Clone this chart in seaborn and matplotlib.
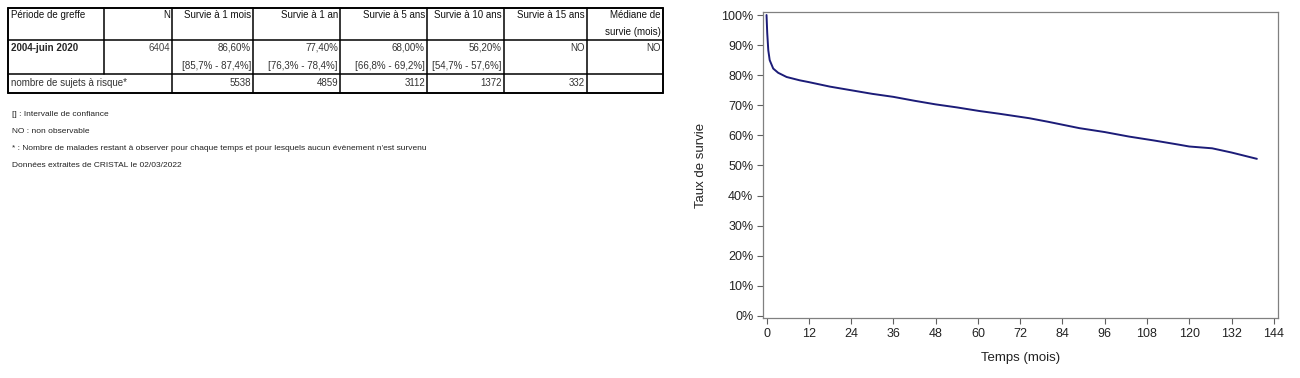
import numpy as np
import pandas as pd
import matplotlib
matplotlib.use("Agg")
import matplotlib.pyplot as plt
import seaborn as sns
from matplotlib.ticker import PercentFormatter

# survival curve (months, survival proportion)
months = [0, 0.2, 0.5, 0.9, 1.9, 3.3, 5.7, 9.4, 12, 18, 24, 30, 36, 42, 48, 54,
          60.4, 66, 74.6, 80, 88.8, 96, 102.9, 110, 117.1, 120, 126.5, 132, 139.2]
survival = [1.00, 0.94, 0.883, 0.85, 0.822, 0.808, 0.794, 0.783, 0.777, 0.762, 0.750,
            0.738, 0.728, 0.715, 0.703, 0.693, 0.681, 0.672, 0.657, 0.645, 0.624,
            0.611, 0.596, 0.583, 0.569, 0.563, 0.557, 0.543, 0.522]

# table content
headers_l1 = ["Période de greffe", "N", "Survie à 1 mois", "Survie à 1 an",
              "Survie à 5 ans", "Survie à 10 ans", "Survie à 15 ans", "Médiane de"]
headers_l2 = ["", "", "", "", "", "", "", "survie (mois)"]
period = "2004-juin 2020"
n_total = "6404"
rates = ["86,60%", "77,40%", "68,00%", "56,20%", "NO", "NO"]
ci = ["[85,7% - 87,4%]", "[76,3% - 78,4%]", "[66,8% - 69,2%]", "[54,7% - 57,6%]", "", ""]
at_risk_label = "nombre de sujets à risque*"
at_risk = ["5538", "4859", "3112", "1372", "332", ""]
notes = ["[] : Intervalle de confiance",
         "NO : non observable",
         "* : Nombre de malades restant à observer pour chaque temps et pour lesquels aucun évènement n'est survenu",
         "Données extraites de CRISTAL le 02/03/2022"]

sns.set_style("white")
plt.rcParams['font.family'] = ['Liberation Sans', 'DejaVu Sans']

fig = plt.figure(figsize=(13, 3.78), dpi=100)

# ---- table drawn in pixel coordinates ----
tab = fig.add_axes([0, 0, 1, 1])
tab.set_xlim(0, 1300)
tab.set_ylim(378, 0)
tab.axis('off')

cols = [8, 104, 172, 253, 340, 427, 504, 587, 663]
rows = [8, 40, 74, 93]
lw = 1.1
for y in rows:
    tab.plot([cols[0], cols[-1]], [y, y], color='black', lw=1.4 if y in (8, 93) else lw)
for i, x in enumerate(cols):
    outer = x in (cols[0], cols[-1])
    y0 = rows[0]
    y1 = rows[2] if x == cols[1] else rows[3]
    tab.plot([x, x], [y0, y1], color='black', lw=1.4 if outer else lw)

fs = 7
txt = '#111111'
for i, (h1, h2) in enumerate(zip(headers_l1, headers_l2)):
    if i == 0:
        tab.text(cols[0] + 3, 15, h1, fontsize=fs, ha='left', va='center', color=txt)
    else:
        tab.text(cols[i + 1] - 2, 15, h1, fontsize=fs, ha='right', va='center', color=txt)
        if h2:
            tab.text(cols[i + 1] - 2, 32, h2, fontsize=fs, ha='right', va='center', color=txt)

tab.text(cols[0] + 3, 48, period, fontsize=fs, ha='left', va='center', fontweight='bold')
tab.text(cols[2] - 2, 48, n_total, fontsize=fs, ha='right', va='center', color='#444444')
for j, (r, c) in enumerate(zip(rates, ci)):
    tab.text(cols[j + 3] - 2, 48, r, fontsize=fs, ha='right', va='center', color='#333333')
    if c:
        tab.text(cols[j + 3] - 2, 66, c, fontsize=fs, ha='right', va='center', color='#333333')

tab.text(cols[0] + 3, 83, at_risk_label, fontsize=fs, ha='left', va='center', color='#333333')
for j, v in enumerate(at_risk):
    if v:
        tab.text(cols[j + 3] - 2, 83, v, fontsize=fs, ha='right', va='center', color='#333333')

for k, note in enumerate(notes):
    tab.text(12, 115 + k * 16.8, note, fontsize=6, ha='left', va='center', color='#222222')

# ---- survival curve ----
ax = fig.add_axes([763 / 1300, (378 - 318) / 378, (1278 - 763) / 1300, (318 - 12) / 378])
df = pd.DataFrame({"Temps": months, "Survie": survival})
sns.lineplot(data=df, x="Temps", y="Survie", ax=ax, color='#1c1c78', lw=1.4)

ax.set_xlim(-1, 145.2)
ax.set_ylim(-0.007, 1.01)
ax.set_xticks(np.arange(0, 145, 12))
ax.set_yticks(np.arange(0, 1.01, 0.1))
ax.yaxis.set_major_formatter(PercentFormatter(1.0, decimals=0))
ax.tick_params(axis='both', which='both', direction='out', length=4, width=0.8,
               color='#606060', labelsize=9, left=True, bottom=True, pad=3,
               labelcolor='#222222')
for s in ax.spines.values():
    s.set_color('#808080')
    s.set_linewidth(0.9)
ax.set_xlabel("Temps (mois)", fontsize=9.5, labelpad=9, color='#222222')
ax.set_ylabel("Taux de survie", fontsize=9.5, labelpad=10, color='#222222')

fig.savefig("out.png", dpi=100)
